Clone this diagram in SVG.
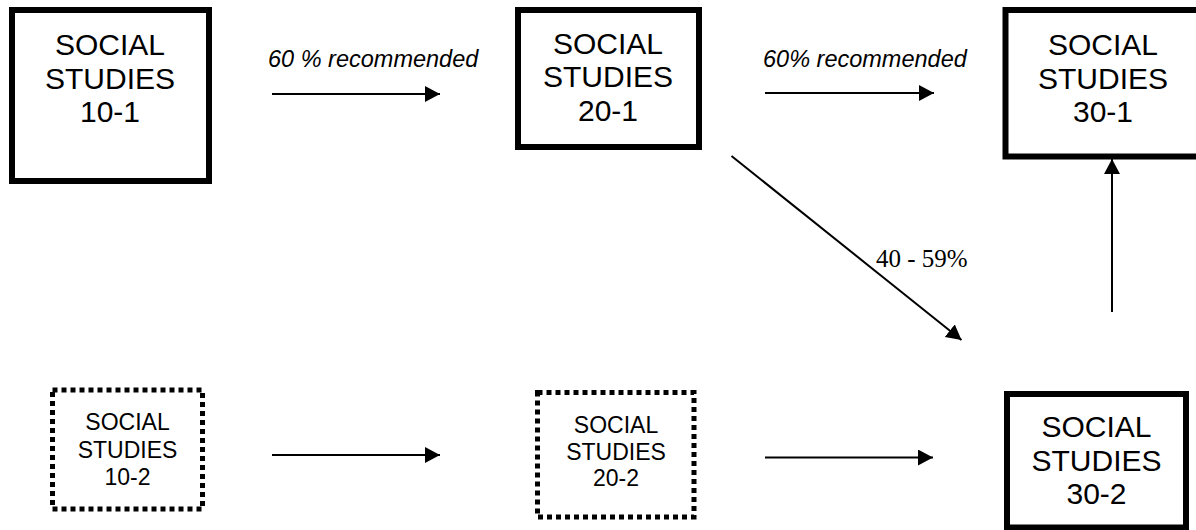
<svg xmlns="http://www.w3.org/2000/svg" width="1196" height="530" viewBox="0 0 1196 530">
  <style>
    .box { fill: #ffffff; stroke: #000000; stroke-width: 6; }
    .dbox { fill: #ffffff; stroke: #000000; stroke-width: 5; stroke-dasharray: 5 4; }
    .big { font-family: "Liberation Sans", Arial, sans-serif; font-size: 30px; fill: #000; text-anchor: middle; }
    .small { font-family: "Liberation Sans", Arial, sans-serif; font-size: 23px; fill: #000; text-anchor: middle; }
    .lbl { font-family: "Liberation Sans", Arial, sans-serif; font-size: 23.5px; font-style: italic; fill: #000; }
    .lbl2 { font-family: "Liberation Serif", "Times New Roman", serif; font-size: 25px; fill: #000; }
    .conn { stroke: #000; stroke-width: 2; fill: none; marker-end: url(#ah); }
  </style>
  <defs>
    <marker id="ah" markerUnits="userSpaceOnUse" markerWidth="16" markerHeight="17" refX="15" refY="8" orient="auto">
      <path d="M0,0 L15,8 L0,16 z" fill="#000"/>
    </marker>
  </defs>
  <rect width="1196" height="530" fill="#ffffff"/>

  <g id="connectors">
    <line class="conn" x1="272" y1="94" x2="440" y2="94"/>
    <line class="conn" x1="765" y1="93" x2="934" y2="93"/>
    <line class="conn" x1="272" y1="455" x2="440" y2="455"/>
    <line class="conn" x1="765" y1="457.5" x2="933" y2="457.5"/>
    <line class="conn" x1="1112" y1="312" x2="1112" y2="159"/>
    <line class="conn" x1="731.5" y1="156" x2="961.5" y2="340"/>
    <text class="lbl" x="268" y="67">60 % recommended</text>
    <text class="lbl" x="763" y="67">60% recommended</text>
    <text class="lbl2" x="876" y="267">40 - 59%</text>
  </g>

  <g id="ss10-1">
    <rect class="box" x="12" y="10" width="197" height="171"/>
    <text class="big" x="110" y="55">SOCIAL</text>
    <text class="big" x="110" y="88.5">STUDIES</text>
    <text class="big" x="110" y="122">10-1</text>
  </g>
  <g id="ss20-1">
    <rect class="box" x="518" y="10" width="181" height="137"/>
    <text class="big" x="608" y="53.5">SOCIAL</text>
    <text class="big" x="608" y="87">STUDIES</text>
    <text class="big" x="608" y="120.5">20-1</text>
  </g>
  <g id="ss30-1">
    <rect class="box" x="1005.5" y="10" width="198" height="146.5"/>
    <text class="big" x="1103" y="55">SOCIAL</text>
    <text class="big" x="1103" y="88.5">STUDIES</text>
    <text class="big" x="1103" y="122">30-1</text>
  </g>
  <g id="ss30-2">
    <rect class="box" x="1007" y="394" width="179" height="133.5"/>
    <text class="big" x="1096.5" y="437">SOCIAL</text>
    <text class="big" x="1096.5" y="470.5">STUDIES</text>
    <text class="big" x="1096.5" y="504">30-2</text>
  </g>
  <g id="ss10-2">
    <rect class="dbox" x="52.5" y="390" width="150" height="119"/>
    <text class="small" x="127.5" y="430">SOCIAL</text>
    <text class="small" x="127.5" y="457.5">STUDIES</text>
    <text class="small" x="127.5" y="485">10-2</text>
  </g>
  <g id="ss20-2">
    <rect class="dbox" x="537.5" y="392.5" width="156.5" height="124.5"/>
    <text class="small" x="616" y="432.5">SOCIAL</text>
    <text class="small" x="616" y="460">STUDIES</text>
    <text class="small" x="616" y="486">20-2</text>
  </g>
</svg>
